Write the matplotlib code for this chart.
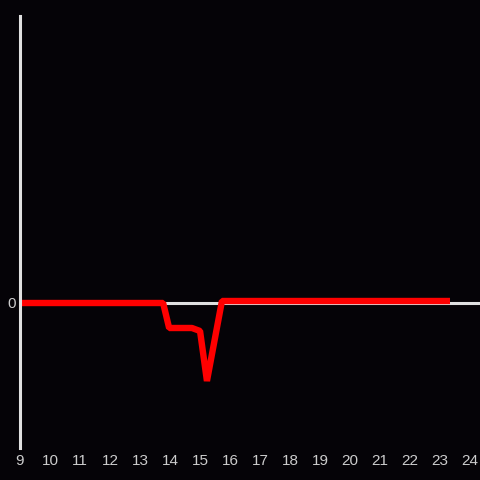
import matplotlib.pyplot as plt

# hour of day vs. value
hours = [9, 13.77, 13.97, 14.73, 15.0, 15.23, 15.73, 23.33]
values = [0, 0, -25, -25, -28, -78, 2, 2]
x_ticks = list(range(9, 25))

bg = "#050307"
fg = "#e0e0e0"

fig = plt.figure(figsize=(4.8, 4.8), dpi=100, facecolor=bg)
ax = fig.add_axes([20 / 480, 32 / 480, 460 / 480, 432 / 480], facecolor=bg)

ax.axhline(0, color=fg, linewidth=2.2, zorder=1)
ax.plot(hours, values, color="#ff0000", linewidth=4.6, solid_joinstyle="bevel",
        solid_capstyle="butt", zorder=2)

ax.set_xlim(9, 24.33)
ax.set_ylim(-145, 287)
ax.set_xticks(x_ticks)
ax.set_xticklabels([str(t) for t in x_ticks])
ax.set_yticks([0])
ax.set_yticklabels(["0"])
ax.tick_params(length=0, colors="#cccccc", labelsize=11)
for lab in ax.get_xticklabels() + ax.get_yticklabels():
    lab.set_family(["Liberation Sans", "DejaVu Sans"])
ax.tick_params(axis="y", pad=3)
ax.tick_params(axis="x", pad=4.5)

for s in ["top", "right", "bottom"]:
    ax.spines[s].set_visible(False)
ax.spines["left"].set_color(fg)
ax.spines["left"].set_linewidth(2.2)

fig.savefig("out.png", dpi=100, facecolor=bg)
